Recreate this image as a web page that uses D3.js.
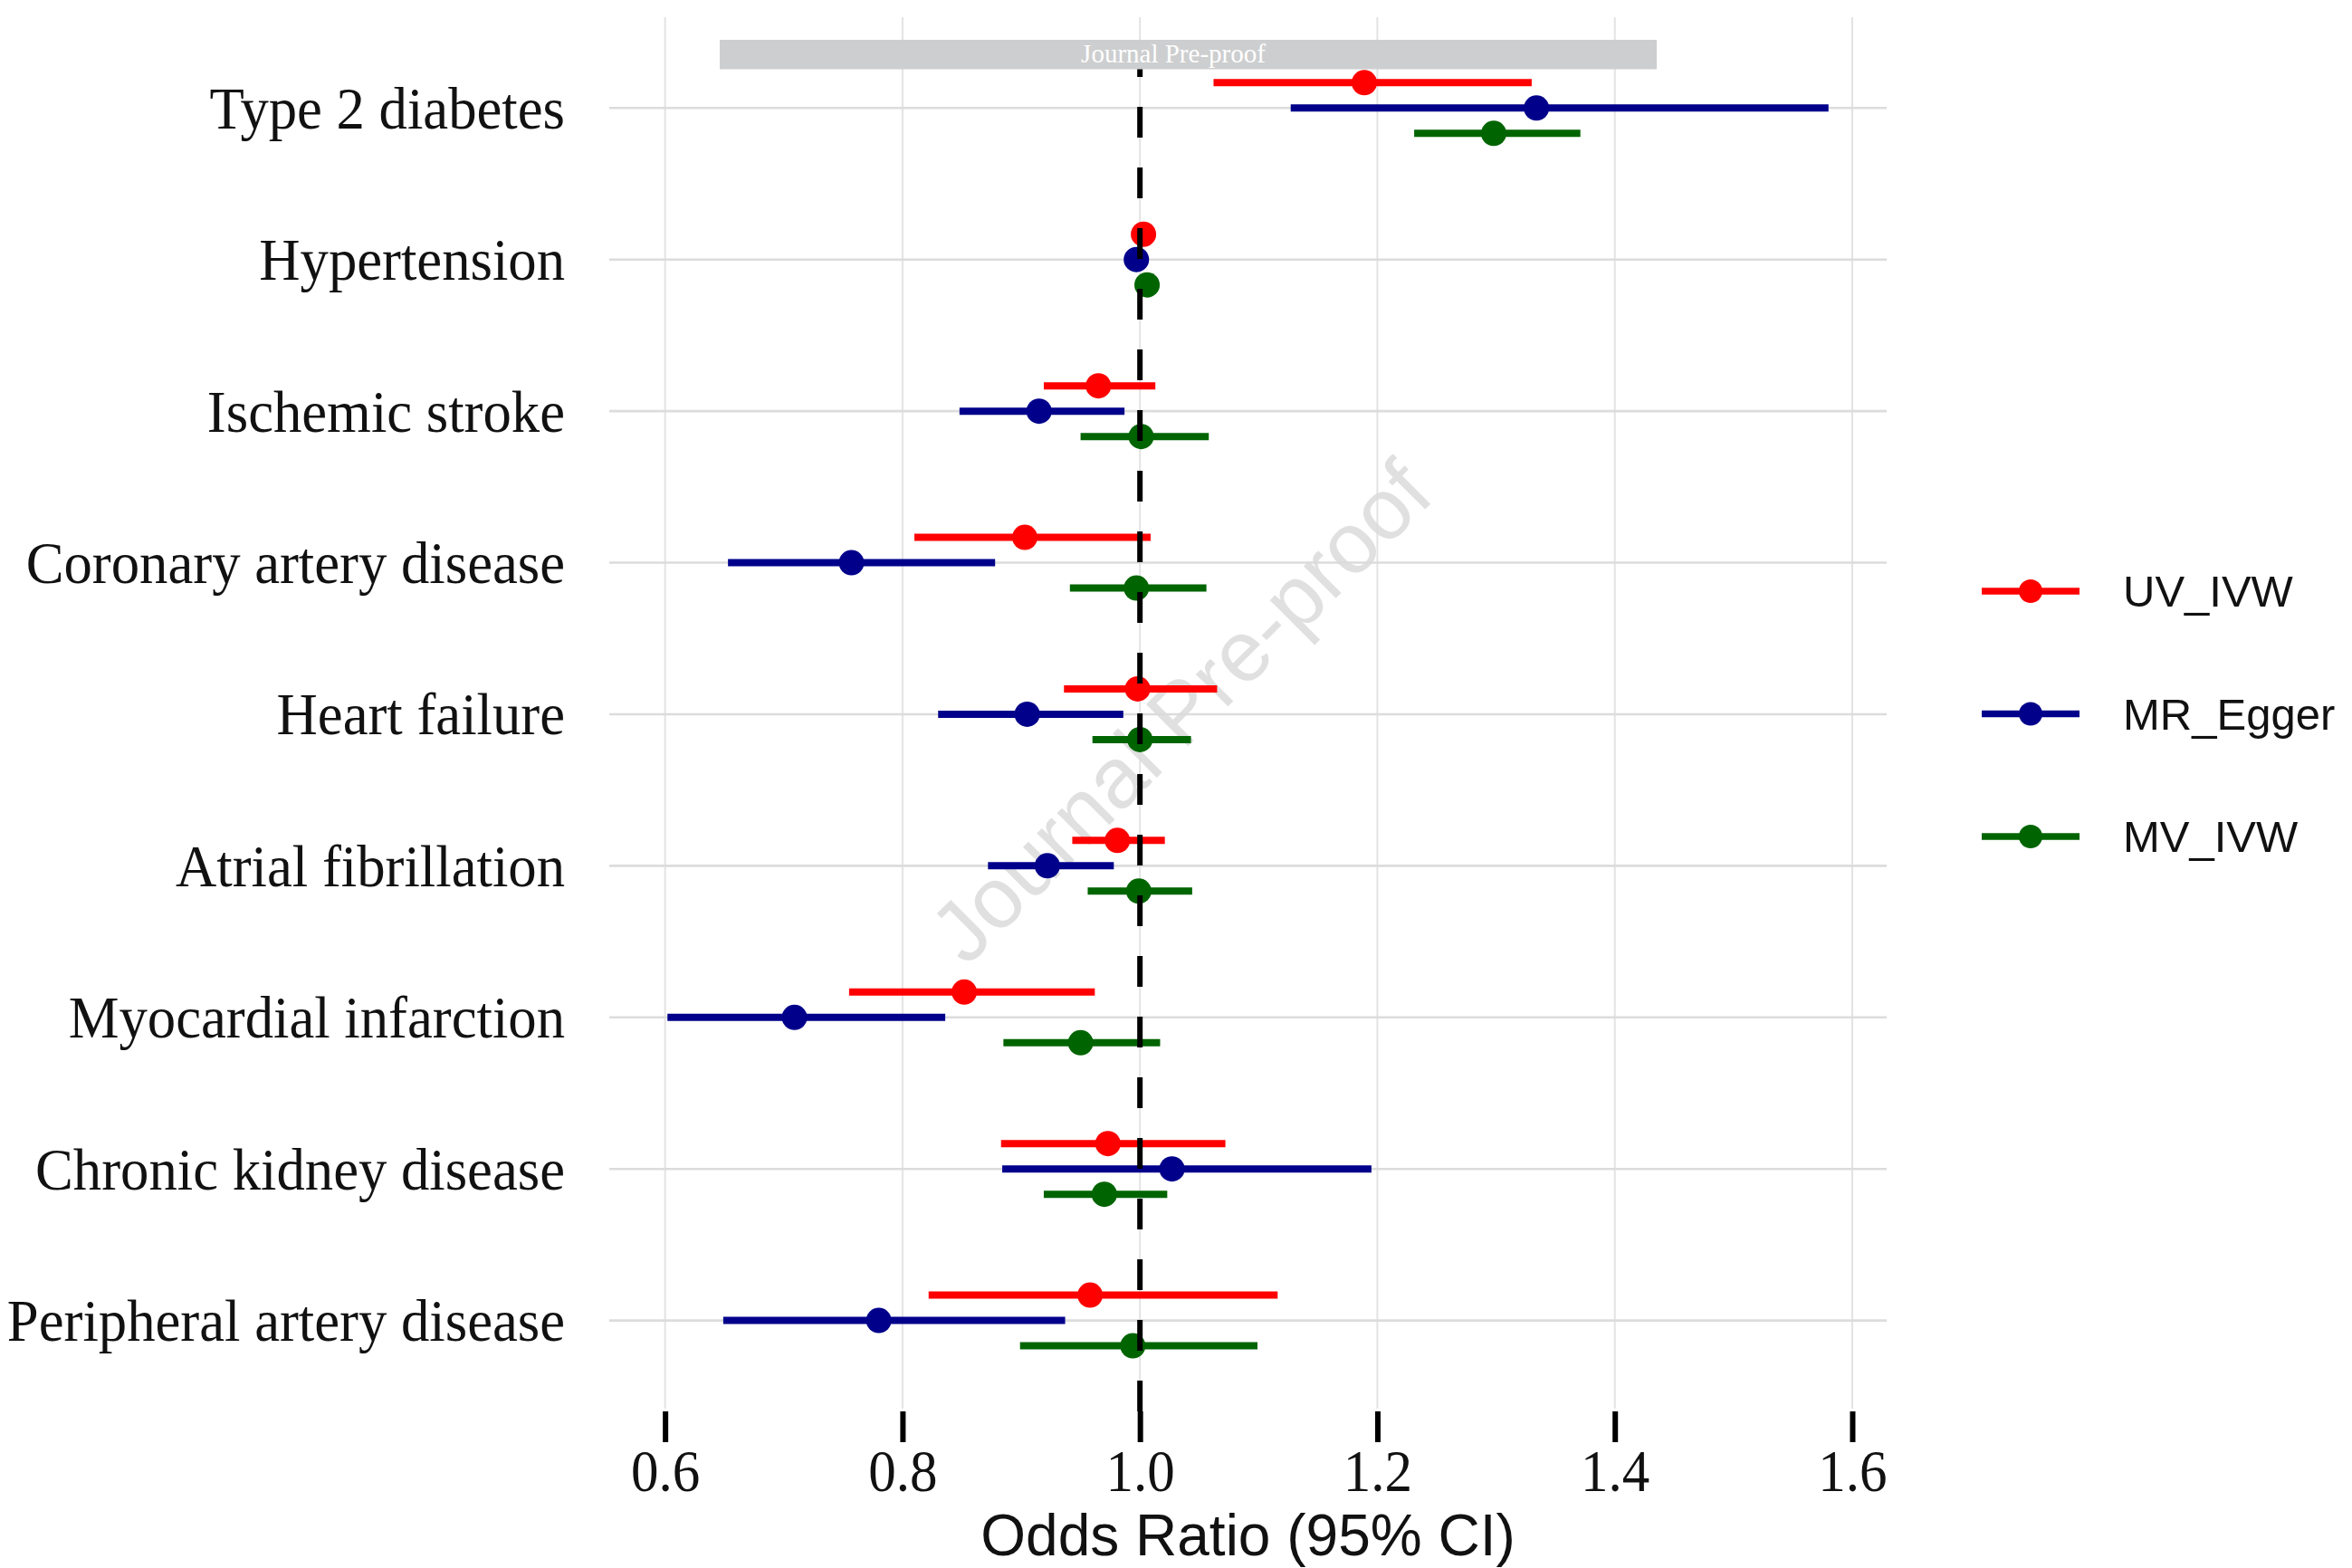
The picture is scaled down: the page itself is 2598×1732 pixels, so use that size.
<!DOCTYPE html>
<html>
<head>
<meta charset="utf-8">
<script src="https://cdn.jsdelivr.net/npm/d3@7"></script>
<style>
  html, body { margin: 0; padding: 0; background: #ffffff; }
  svg { display: block; }
</style>
</head>
<body>
<svg id="chart" width="2598" height="1732"></svg>
<script>
// ---------------- DATA ----------------
const categories = [
  "Type 2 diabetes",
  "Hypertension",
  "Ischemic stroke",
  "Coronary artery disease",
  "Heart failure",
  "Atrial fibrillation",
  "Myocardial infarction",
  "Chronic kidney disease",
  "Peripheral artery disease"
];
const seriesNames = ["UV_IVW", "MR_Egger", "MV_IVW"];

const uvOR = [1.189, 1.003, 0.965, 0.903, 0.998, 0.981, 0.852, 0.973, 0.958];
const uvLo = [1.062, 1.000, 0.919, 0.810, 0.936, 0.943, 0.755, 0.883, 0.822];
const uvHi = [1.330, 1.006, 1.013, 1.009, 1.065, 1.021, 0.962, 1.072, 1.116];

const egOR = [1.334, 0.997, 0.915, 0.757, 0.905, 0.922, 0.709, 1.027, 0.780];
const egLo = [1.127, 0.994, 0.848, 0.653, 0.830, 0.872, 0.602, 0.884, 0.649];
const egHi = [1.580, 1.000, 0.987, 0.878, 0.986, 0.978, 0.836, 1.195, 0.937];

const mvOR = [1.298, 1.006, 1.001, 0.997, 1.000, 0.999, 0.950, 0.970, 0.994];
const mvLo = [1.231, 1.003, 0.950, 0.941, 0.960, 0.956, 0.885, 0.919, 0.899];
const mvHi = [1.371, 1.009, 1.058, 1.056, 1.043, 1.044, 1.017, 1.023, 1.099];

const xTicks = [0.6, 0.8, 1.0, 1.2, 1.4, 1.6];
const xTickLabels = ["0.6", "0.8", "1.0", "1.2", "1.4", "1.6"];
const xTitle = "Odds Ratio (95% CI)";
const refValue = 1.0;
const bannerText = "Journal Pre-proof";
const watermarkText = "Journal Pre-proof";

// ---------------- BUILD ROWS ----------------
const seriesData = {
  "UV_IVW":   { or: uvOR, lo: uvLo, hi: uvHi },
  "MR_Egger": { or: egOR, lo: egLo, hi: egHi },
  "MV_IVW":   { or: mvOR, lo: mvLo, hi: mvHi }
};
const rows = [];
seriesNames.forEach(s => {
  categories.forEach((c, i) => {
    rows.push({ series: s, cat: c, or: seriesData[s].or[i], lo: seriesData[s].lo[i], hi: seriesData[s].hi[i] });
  });
});

// ---------------- LAYOUT ----------------
const panel = { left: 673, right: 2084, top: 19, bottom: 1559 };
const svg = d3.select("#chart");

const x = d3.scaleLinear().domain([0.553, 1.629]).range([panel.left, panel.right]);
const y = d3.scalePoint().domain(categories).range([119.3, 1458.6]);
const dodge = d3.scalePoint().domain(seriesNames).range([-28, 28]);
const color = d3.scaleOrdinal().domain(seriesNames).range(["#FF0000", "#00008B", "#006400"]);

svg.append("rect").attr("width", 2598).attr("height", 1732).attr("fill", "#ffffff");

// gridlines
const grid = svg.append("g");
grid.selectAll("line.vg").data(xTicks).enter().append("line")
  .attr("class", "vg")
  .attr("x1", d => x(d)).attr("x2", d => x(d))
  .attr("y1", panel.top).attr("y2", panel.bottom - 3)
  .attr("stroke", "#e3e3e3").attr("stroke-width", 2);
grid.selectAll("line.hg").data(categories).enter().append("line")
  .attr("class", "hg")
  .attr("x1", panel.left).attr("x2", panel.right)
  .attr("y1", d => y(d)).attr("y2", d => y(d))
  .attr("stroke", "#dcdcdc").attr("stroke-width", 2.6);

// watermark
svg.append("text")
  .attr("transform", "translate(1304,786) rotate(-45)")
  .attr("text-anchor", "middle")
  .attr("dominant-baseline", "central")
  .attr("font-family", "Liberation Sans, Arial, sans-serif")
  .attr("font-size", 95)
  .attr("fill", "#dadada")
  .attr("fill-opacity", 0.85)
  .text(watermarkText);

// error bars
const marks = svg.append("g");
marks.selectAll("line.ci").data(rows).enter().append("line")
  .attr("class", "ci")
  .attr("x1", d => x(d.lo)).attr("x2", d => x(d.hi))
  .attr("y1", d => y(d.cat) + dodge(d.series))
  .attr("y2", d => y(d.cat) + dodge(d.series))
  .attr("stroke", d => color(d.series))
  .attr("stroke-width", 8);

marks.selectAll("circle.pt").data(rows).enter().append("circle")
  .attr("class", "pt")
  .attr("cx", d => x(d.or))
  .attr("cy", d => y(d.cat) + dodge(d.series))
  .attr("r", 14)
  .attr("fill", d => color(d.series));

// reference dashed line (drawn bottom to top)
svg.append("line")
  .attr("x1", x(refValue)).attr("x2", x(refValue))
  .attr("y1", panel.bottom).attr("y2", panel.top)
  .attr("stroke", "#000").attr("stroke-width", 6)
  .attr("stroke-dasharray", "34,33");

// x axis
const xAxis = d3.axisBottom(x)
  .tickValues(xTicks)
  .tickFormat((d, i) => xTickLabels[i])
  .tickSize(34);
const gx = svg.append("g").attr("transform", `translate(0,${panel.bottom})`).call(xAxis);
gx.select(".domain").remove();
gx.selectAll(".tick line").attr("stroke", "#000").attr("stroke-width", 6);
gx.selectAll(".tick text")
  .attr("fill", "#111")
  .attr("y", 88 / 1.07)
  .attr("dy", 0)
  .attr("transform", "scale(1,1.07)")
  .attr("font-family", "Liberation Serif, 'Times New Roman', serif")
  .attr("font-size", 61);

// y axis
const yAxis = d3.axisLeft(y).tickSize(0).tickPadding(49);
const gy = svg.append("g").attr("transform", `translate(${panel.left},0)`).call(yAxis);
gy.select(".domain").remove();
gy.selectAll(".tick text")
  .attr("fill", "#111")
  .attr("dy", 0)
  .attr("y", 22 / 1.04)
  .attr("transform", "scale(1,1.04)")
  .attr("font-family", "Liberation Serif, 'Times New Roman', serif")
  .attr("font-size", 62.7);

// x title
svg.append("text")
  .attr("x", (panel.left + panel.right) / 2)
  .attr("y", 1718)
  .attr("text-anchor", "middle")
  .attr("font-family", "Liberation Sans, Arial, sans-serif")
  .attr("font-size", 64)
  .attr("fill", "#111")
  .text(xTitle);

// legend
const legendY = d3.scalePoint().domain(seriesNames).range([653, 924]);
const lg = svg.append("g");
const item = lg.selectAll("g.item").data(seriesNames).enter().append("g")
  .attr("class", "item")
  .attr("transform", d => `translate(0,${legendY(d)})`);
item.append("line")
  .attr("x1", 2189).attr("x2", 2297).attr("y1", 0).attr("y2", 0)
  .attr("stroke", d => color(d)).attr("stroke-width", 7.5);
item.append("circle")
  .attr("cx", 2243).attr("cy", 0).attr("r", 13)
  .attr("fill", d => color(d));
item.append("text")
  .attr("x", 2345).attr("y", 17)
  .attr("font-family", "Liberation Sans, Arial, sans-serif")
  .attr("font-size", 49)
  .attr("fill", "#111")
  .text(d => d);

// banner
svg.append("rect")
  .attr("x", 795).attr("y", 44)
  .attr("width", 1035).attr("height", 32.5)
  .attr("fill", "#cdcecf");
svg.append("text")
  .attr("x", 1296).attr("y", 69)
  .attr("text-anchor", "middle")
  .attr("font-family", "Liberation Serif, 'Times New Roman', serif")
  .attr("font-size", 29)
  .attr("fill", "#ffffff")
  .text(bannerText);
</script>
</body>
</html>
